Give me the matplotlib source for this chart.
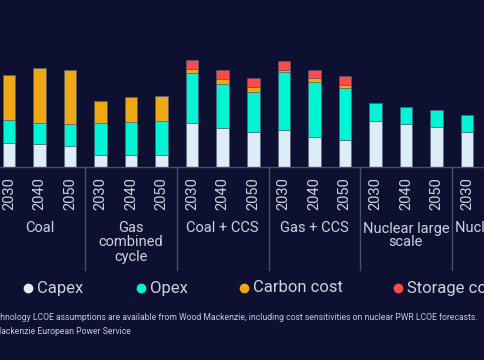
import matplotlib
matplotlib.use("Agg")
import matplotlib.pyplot as plt
from matplotlib.lines import Line2D
import numpy as np

plt.rcParams['font.family'] = ['Roboto', 'DejaVu Sans']

# LCOE components per technology and year (chart units)
years = ["2030", "2040", "2050"] * 6
technologies = ["Coal", "Gas\ncombined\ncycle", "Coal + CCS", "Gas + CCS",
                "Nuclear large\nscale", "Nuclear SMR"]
capex = [23.8, 22.2, 20.8, 11.8, 11.8, 11.8, 43.2, 38.2, 34.2,
         36.5, 29.8, 26.5, 45.8, 42.2, 39.8, 34.8]
opex = [22.7, 21.3, 21.4, 31.7, 33.0, 33.4, 50.3, 44.0, 40.3,
        58.0, 55.0, 51.7, 17.4, 17.0, 16.7, 16.7]
carbon = [45.3, 54.7, 54.6, 22.3, 25.0, 25.3, 4.0, 5.3, 5.3,
          2.0, 3.4, 3.0, 0, 0, 0, 0]
storage = [0, 0, 0, 0, 0, 0, 9.0, 9.0, 9.0,
           8.7, 8.6, 9.0, 0, 0, 0, 0]
series = ["Capex", "Opex", "Carbon cost", "Storage cost"]

BG = "#0d1030"
colors = ["#dcedf8", "#00f5d4", "#eea815", "#fa4c4c"]
TXT = "#cfd2dc"
LINE = "#4a4e66"

W, H = 485, 360
fig = plt.figure(figsize=(W / 100, H / 100), dpi=100, facecolor=BG)
base_px = 166.5
ax = fig.add_axes([0, 1 - base_px / H, 1, base_px / H])
ax.set_facecolor(BG)

n = len(capex)
x = np.arange(n)
bottom = np.zeros(n)
for vals, c in zip([capex, opex, carbon, storage], colors):
    vals = np.array(vals)
    ax.bar(x, vals, 0.41, bottom=bottom, color=c, edgecolor="#5a5e78",
           linewidth=0.4)
    bottom += vals

ax.set_xlim(-0.295, 15.59)
ax.set_ylim(0, base_px)
for s in ax.spines.values():
    s.set_visible(False)
ax.set_yticks([])
ax.axhline(0, color=LINE, lw=1, clip_on=False)

ax.set_xticks(x)
ax.set_xticklabels(years[:n], rotation=90, color=TXT, fontsize=10.5)
ax.tick_params(axis="x", length=0, pad=7.5)

# group separators and technology names
for g in range(1, 6):
    sx = g * 3 - 0.5
    ax.plot([sx, sx], [0, -103], color=LINE, lw=1, clip_on=False)
for g, name in enumerate(technologies):
    ax.text(g * 3 + 1, -55, name, ha="center", va="top", color=TXT,
            fontsize=10.5, linespacing=1.0, clip_on=False)

# legend
leg_x = [28, 141, 244, 398]
leg_y = 288
for name, c, lx in zip(series, colors, leg_x):
    fig.add_artist(Line2D([lx / W], [1 - leg_y / H], marker="o", ms=6,
                          color=c, lw=0, transform=fig.transFigure))
    fig.text((lx + 9) / W, 1 - leg_y / H, name, color=TXT, fontsize=12,
             va="center", ha="left")

# notes
fig.text(478 / W, 1 - 317 / H,
         "Note: Technology LCOE assumptions are available from Wood Mackenzie, "
         "including cost sensitivities on nuclear PWR LCOE forecasts.",
         ha="right", va="center", color="#c4cae0", fontsize=6.2)
fig.text(131 / W, 1 - 331 / H, "Source: Wood Mackenzie European Power Service",
         ha="right", va="center", color="#c4cae0", fontsize=6.2)

fig.savefig("out.png", dpi=100, facecolor=BG)
